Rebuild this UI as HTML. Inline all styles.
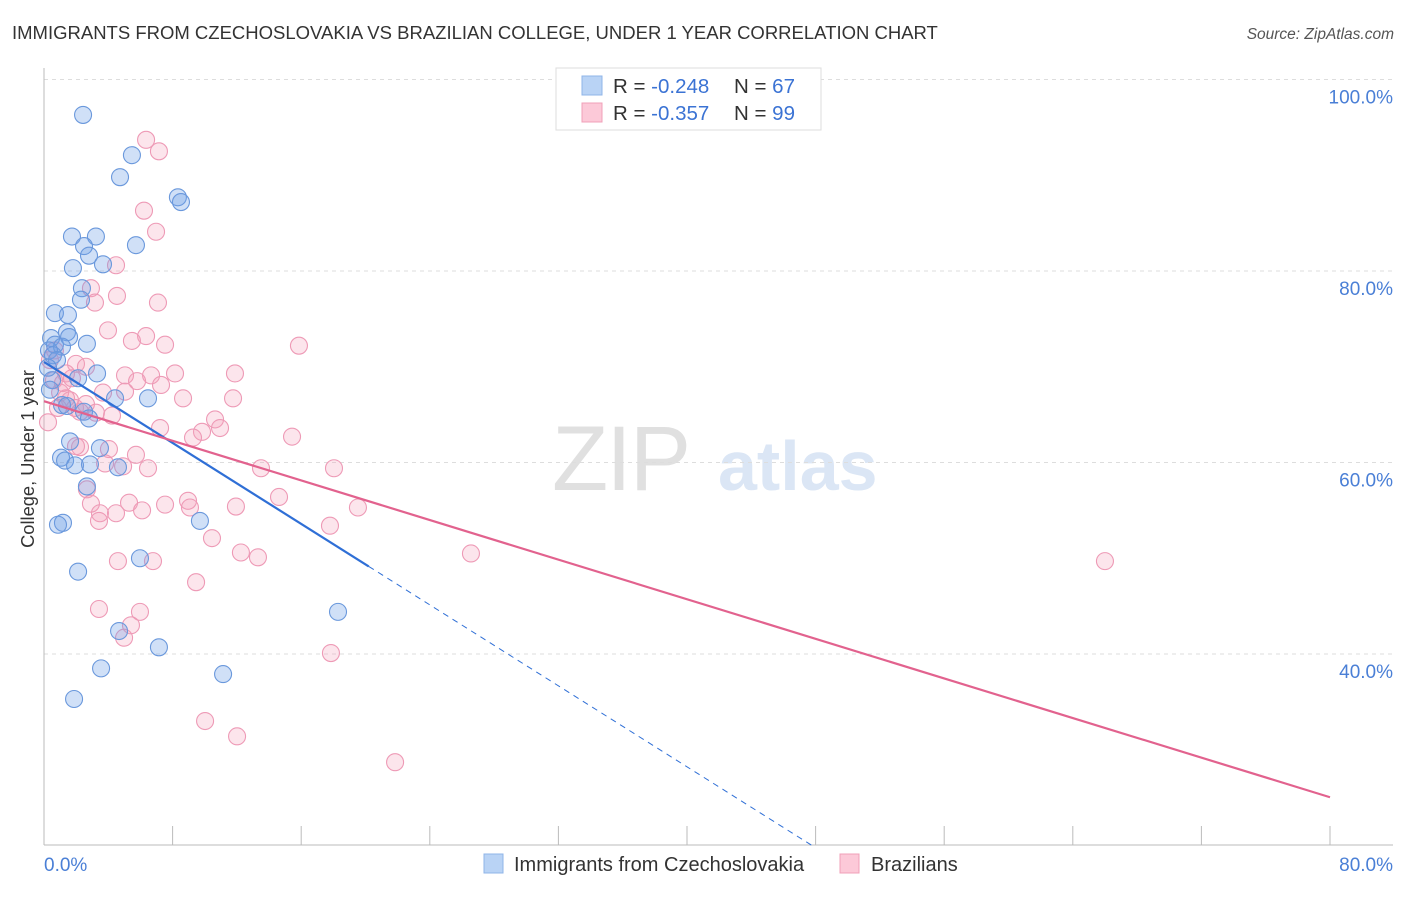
<!DOCTYPE html>
<html><head><meta charset="utf-8"><style>
body{margin:0;background:#fff;font-family:"Liberation Sans",sans-serif;}
svg text{font-family:"Liberation Sans",sans-serif;}
</style></head><body>
<svg id="chart" width="1406" height="892" viewBox="0 0 1406 892" xmlns="http://www.w3.org/2000/svg">
<text x="12" y="39" font-size="18.5" fill="#333">IMMIGRANTS FROM CZECHOSLOVAKIA VS BRAZILIAN COLLEGE, UNDER 1 YEAR CORRELATION CHART</text>
<text x="1394" y="39" font-size="15.5" fill="#555" text-anchor="end" font-style="italic">Source: ZipAtlas.com</text>
<g>
<text x="552" y="490" font-size="92" fill="#e0e0e0" font-family="Liberation Serif" letter-spacing="-2">ZIP</text>
<text x="718" y="490" font-size="70" fill="#dbe6f5" font-weight="bold">atlas</text>
</g>
<g id="grid"></g>
<g id="axes"></g>
<g id="pts"></g>
<g id="lines"></g>
<text transform="translate(34,459) rotate(-90)" font-size="18.3" fill="#333" text-anchor="middle">College, Under 1 year</text>
<g>
<rect x="556" y="68" width="265" height="62" fill="#fff" stroke="#ddd"/>
<rect x="582" y="76" width="20" height="19" fill="#b9d3f5" stroke="#8fb4e8"/>
<rect x="582" y="103" width="20" height="19" fill="#fcc9d8" stroke="#f0a0b8"/>
<text x="613" y="93" font-size="20.5" fill="#333">R = <tspan fill="#3b73d4">-0.248</tspan><tspan x="734">N = </tspan><tspan fill="#3b73d4">67</tspan></text>
<text x="613" y="120" font-size="20.5" fill="#333">R = <tspan fill="#3b73d4">-0.357</tspan><tspan x="734">N = </tspan><tspan fill="#3b73d4">99</tspan></text>
</g>
<g>
<rect x="484" y="854" width="19" height="19" fill="#b9d3f5" stroke="#8fb4e8"/>
<text x="514" y="871" font-size="20" fill="#333">Immigrants from Czechoslovakia</text>
<rect x="840" y="854" width="19" height="19" fill="#fcc9d8" stroke="#f0a0b8"/>
<text x="871" y="871" font-size="20" fill="#333">Brazilians</text>
</g>
</svg>
<script>
const yTicks=[40,60,80,100];
const xTickLabels=["0.0%","80.0%"];
const blueX=[2.43,5.47,4.73,8.33,8.52,1.74,3.23,2.49,5.72,2.80,1.80,3.67,2.36,2.30,0.68,1.49,0.44,1.43,1.56,2.67,0.68,1.12,0.31,0.56,0.81,3.30,2.12,0.50,6.47,4.42,1.12,1.43,2.49,2.80,1.62,3.48,1.06,1.31,1.93,2.86,4.60,2.67,9.70,1.18,0.87,5.97,2.12,18.29,4.67,7.15,3.55,11.14,1.87,0.25,0.37];
const blueY=[96.3,92.1,89.8,87.7,87.2,83.6,83.6,82.6,82.7,81.6,80.3,80.7,78.2,77.0,75.6,75.4,73.0,73.6,73.1,72.4,72.3,72.1,71.7,71.2,70.7,69.3,68.8,68.6,66.7,66.7,66.0,65.9,65.3,64.6,62.2,61.5,60.5,60.2,59.7,59.8,59.5,57.5,53.9,53.7,53.5,50.0,48.6,44.4,42.4,40.7,38.5,37.9,35.3,69.9,67.6];
const pinkX=[6.35,7.15,6.22,6.97,4.48,2.92,4.54,3.17,7.09,3.98,6.35,5.47,7.53,15.86,1.99,2.61,1.37,5.04,6.66,8.15,11.88,5.79,7.28,5.04,3.67,8.65,11.76,0.62,1.00,1.62,1.93,2.61,4.23,10.64,10.95,7.22,9.83,9.27,15.43,2.24,4.04,5.72,3.80,4.92,6.47,13.50,18.04,2.67,14.62,2.92,5.29,8.96,7.53,9.08,11.94,19.53,3.48,4.48,6.10,3.42,17.79,10.45,12.25,13.31,26.56,66.00,4.60,6.78,9.46,3.42,5.97,5.41,4.98,17.85,10.02,12.01,21.84,0.25,0.68,0.37,1.18,1.74,2.24,1.37,0.87,3.23,1.99];
const pinkY=[93.7,92.5,86.3,84.1,80.6,78.2,77.4,76.7,76.7,73.8,73.2,72.7,72.3,72.2,70.3,70.0,69.3,69.1,69.1,69.3,69.3,68.5,68.1,67.4,67.3,66.7,66.7,68.6,67.3,66.5,65.7,66.1,64.9,64.5,63.6,63.6,63.2,62.6,62.7,61.6,61.4,60.8,59.9,59.6,59.4,59.4,59.4,57.2,56.4,55.7,55.8,56.0,55.6,55.3,55.4,55.3,54.7,54.7,55.0,53.9,53.4,52.1,50.6,50.1,50.5,49.7,49.7,49.7,47.5,44.7,44.4,43.0,41.7,40.1,33.0,31.4,28.7,64.2,71.7,70.7,68.3,68.8,65.3,66.7,65.7,65.2,61.7];
const blueFit=[70.5,-1.057];
const pinkFit=[66.4,-0.517];
const blueSolidEnd=20.2;
const X0=44,XS=1286/80,Y0=845.5,YS=191.5/20;
const sx=v=>X0+v*XS, sy=v=>Y0-(v-20)*YS;
const NS="http://www.w3.org/2000/svg";
function mk(tag,attrs,parent){const e=document.createElementNS(NS,tag);for(const k in attrs)e.setAttribute(k,attrs[k]);parent.appendChild(e);return e;}
const grid=document.getElementById('grid'),axes=document.getElementById('axes'),pts=document.getElementById('pts'),lines=document.getElementById('lines');
yTicks.forEach(t=>{
  const g=mk('line',{x1:44,x2:1393,y1:sy(t),y2:sy(t),stroke:'#ddd','stroke-dasharray':'4,4'},grid);
  
  
  const l=mk('text',{x:1393,y:sy(t)+24,'font-size':19,fill:'#4a7fd6','text-anchor':'end'},axes);
  l.textContent=t.toFixed(1)+'%';
  
  
});
const xa=mk('line',{x1:44,x2:1393,y1:845,y2:845,stroke:'#bbb'},axes);


const ya=mk('line',{x1:44,x2:44,y1:68,y2:845,stroke:'#bbb'},axes);


for(let i=0;i<=10;i++){
  const t=mk('line',{x1:sx(i*8),x2:sx(i*8),y1:826,y2:845,stroke:'#bbb'},axes);
  
  
}
const xl0=mk('text',{x:44,y:871,'font-size':19,fill:'#4a7fd6'},axes);xl0.textContent=xTickLabels[0];


const xl1=mk('text',{x:1393,y:871,'font-size':19,fill:'#4a7fd6','text-anchor':'end'},axes);xl1.textContent=xTickLabels[1];


pinkX.forEach((x,i)=>{
  const c=mk('circle',{cx:sx(x),cy:sy(pinkY[i]),r:8.5,fill:'rgba(244,160,188,0.28)',stroke:'#ee9ab6','stroke-width':1.1},pts);
  
  
});
blueX.forEach((x,i)=>{
  const c=mk('circle',{cx:sx(x),cy:sy(blueY[i]),r:8.5,fill:'rgba(110,160,230,0.32)',stroke:'#6a98dc','stroke-width':1.1},pts);
  
  
});
const bf=x=>blueFit[0]+blueFit[1]*x, pf=x=>pinkFit[0]+pinkFit[1]*x;
const bEnd=(20-blueFit[0])/blueFit[1];
const b1=mk('line',{x1:sx(0),y1:sy(bf(0)),x2:sx(blueSolidEnd),y2:sy(bf(blueSolidEnd)),stroke:'#2f6fd6','stroke-width':2.2},lines);


const b2=mk('line',{x1:sx(blueSolidEnd),y1:sy(bf(blueSolidEnd)),x2:sx(bEnd),y2:sy(20),stroke:'#2f6fd6','stroke-width':1,'stroke-dasharray':'6,5'},lines);


const p1=mk('line',{x1:sx(0),y1:sy(pf(0)),x2:sx(80),y2:sy(pf(80)),stroke:'#e2628e','stroke-width':2.2},lines);


</script>
</body></html>
